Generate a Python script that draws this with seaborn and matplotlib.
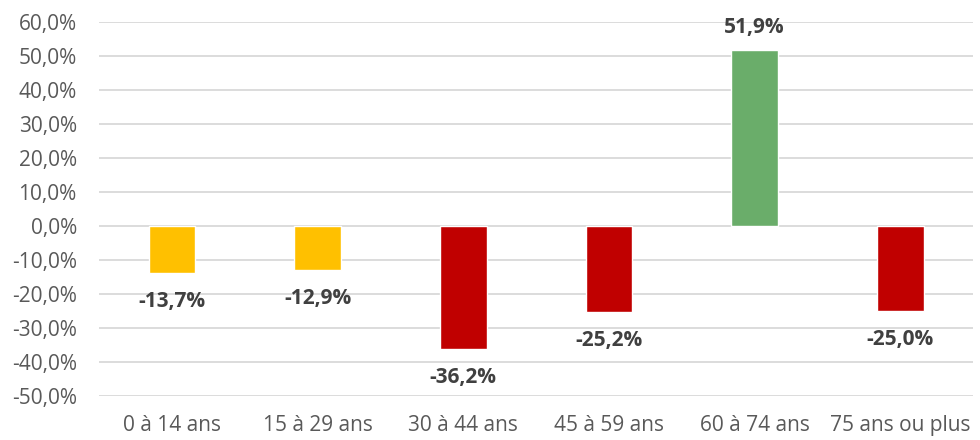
import matplotlib
matplotlib.use('Agg')
import matplotlib.pyplot as plt
import matplotlib.ticker as mticker
import seaborn as sns
import pandas as pd

categories = ['0 à 14 ans', '15 à 29 ans', '30 à 44 ans', '45 à 59 ans', '60 à 74 ans', '75 ans ou plus']
values = [-13.7, -12.9, -36.2, -25.2, 51.9, -25.0]
bar_colors = ['#FFC000', '#FFC000', '#C00000', '#C00000', '#6AAD6A', '#C00000']

df = pd.DataFrame({'age': categories, 'evolution': values})

sns.set_style('white')
plt.rcParams['font.family'] = ['Open Sans', 'DejaVu Sans']

fig = plt.figure(figsize=(9.8, 4.4), dpi=100)
ax = fig.add_axes([0.101, 0.10, 0.892, 0.85])

sns.barplot(data=df, x='age', y='evolution', hue='age', palette=bar_colors,
            width=0.32, legend=False, ax=ax, saturation=1)

ax.set_ylim(-50, 60)
ax.set_yticks(range(-50, 61, 10))
ax.yaxis.set_major_formatter(mticker.FuncFormatter(lambda v, p: f'{v:.1f}%'.replace('.', ',')))
ax.grid(axis='y', color='#D9D9D9', linewidth=1.3)
ax.set_axisbelow(True)
for s in ax.spines.values():
    s.set_visible(False)
ax.tick_params(axis='both', length=0, labelsize=15, colors='#595959')
ax.tick_params(axis='y', pad=16)
ax.tick_params(axis='x', pad=14)
ax.set_xlabel('')
ax.set_ylabel('')

# etiquettes des valeurs (au-dessus / en dessous des barres)
for cont in ax.containers:
    labels = [f'{v:.1f}%'.replace('.', ',') for v in cont.datavalues]
    pad = 8 if cont.datavalues[0] > 0 else 13
    ax.bar_label(cont, labels=labels, padding=pad, fontsize=15, fontweight='bold', color='#404040')

fig.savefig('out.png', dpi=100)
